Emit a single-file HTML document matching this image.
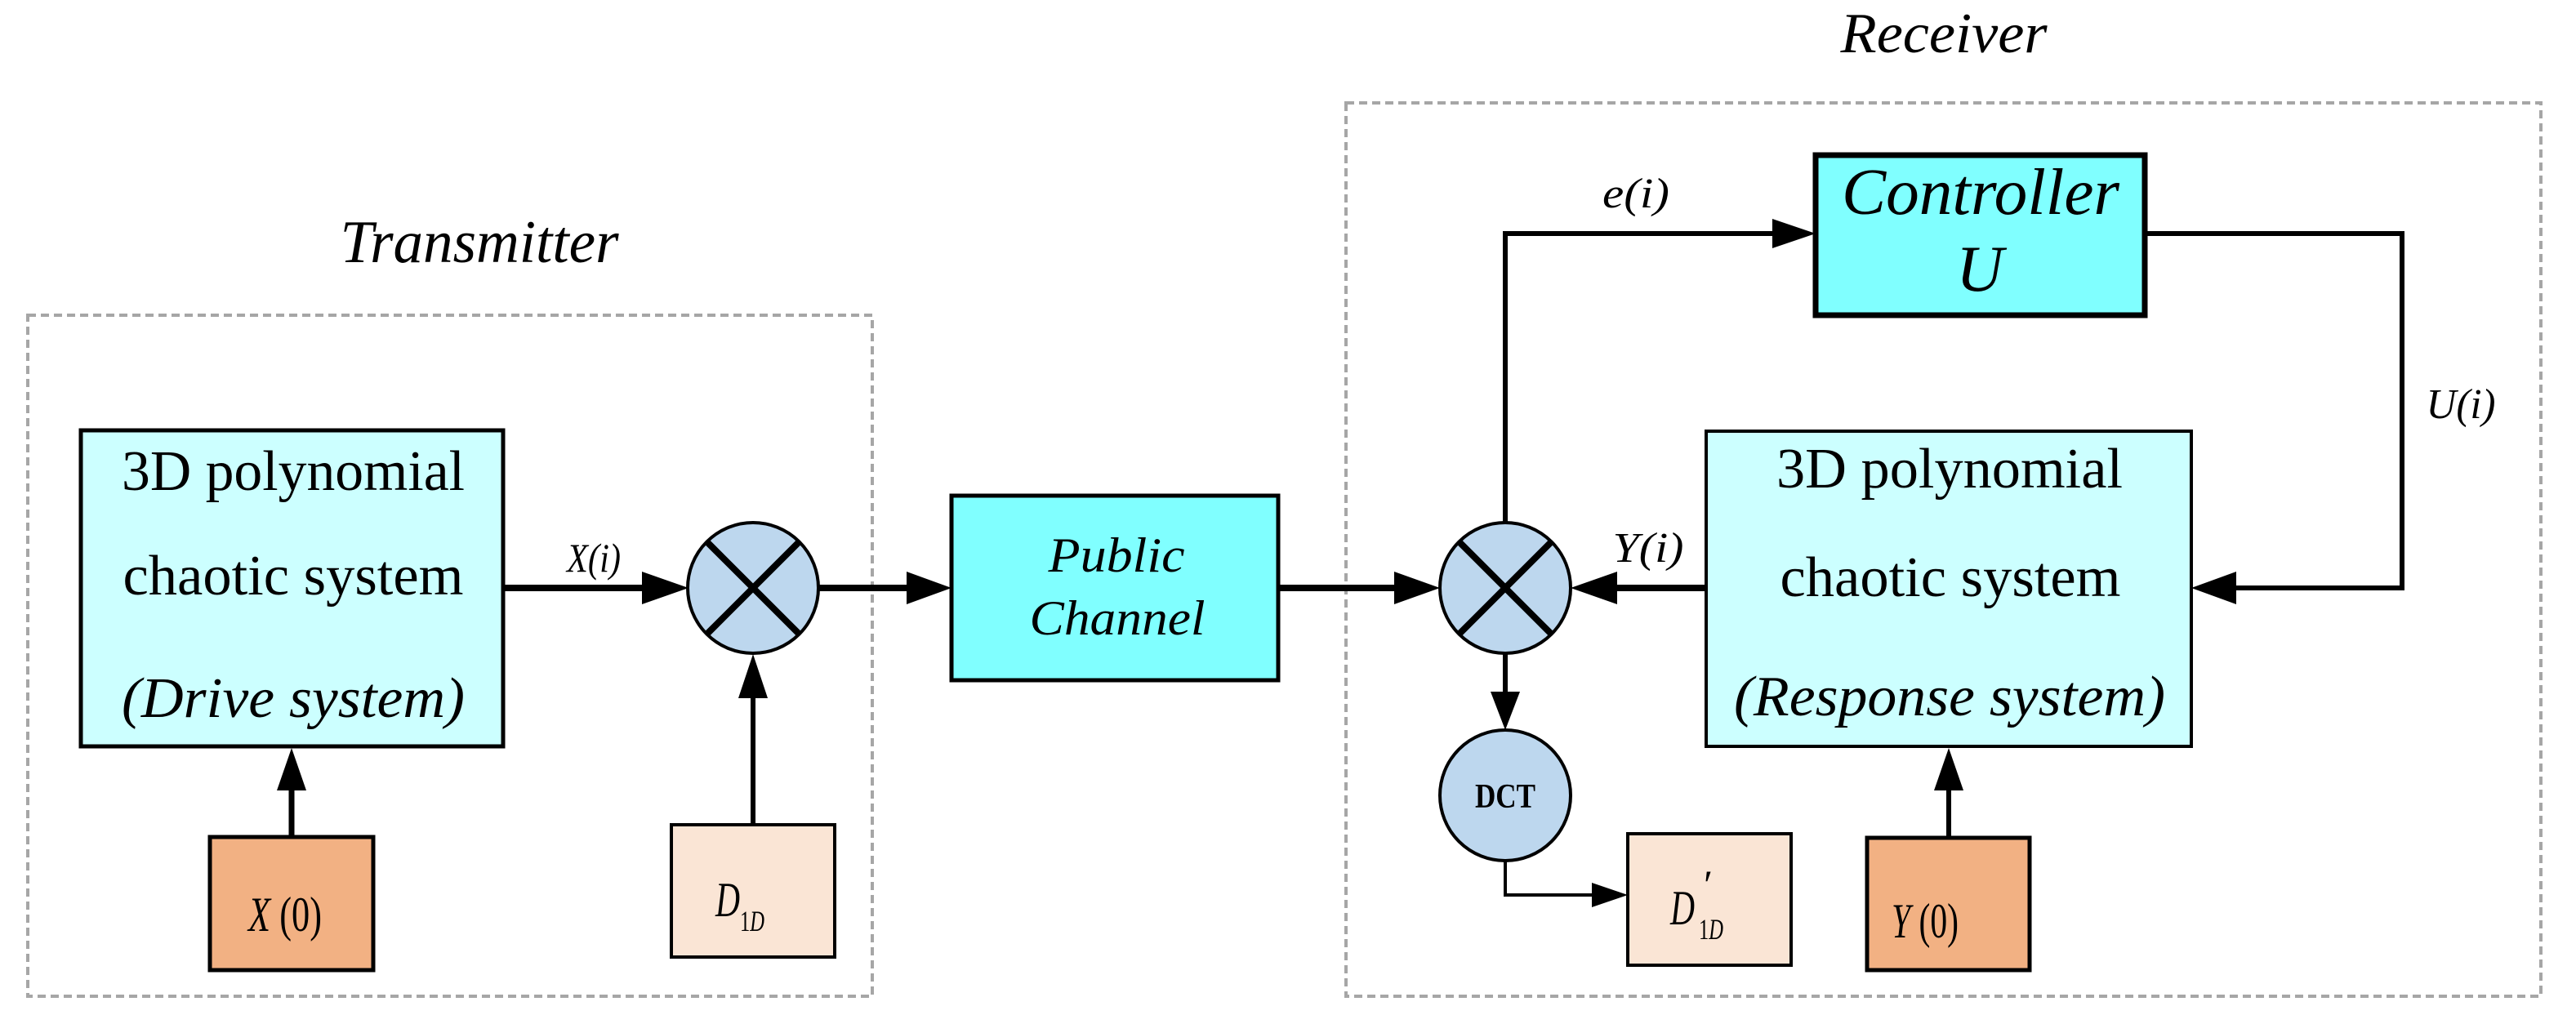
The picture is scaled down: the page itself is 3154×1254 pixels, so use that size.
<!DOCTYPE html>
<html><head><meta charset="utf-8"><style>
html,body{margin:0;padding:0;background:#fff;}
svg{display:block;}
text{font-family:"Liberation Serif","Times New Roman",serif;fill:#000;}
</style></head><body>
<svg width="3154" height="1254" viewBox="0 0 3154 1254" xmlns="http://www.w3.org/2000/svg" font-family="'Liberation Serif', 'Times New Roman', serif">
<rect x="34" y="386" width="1034" height="834" fill="none" stroke="#a6a6a6" stroke-width="4" stroke-dasharray="10,6"/>
<rect x="1648" y="126" width="1463" height="1094" fill="none" stroke="#a6a6a6" stroke-width="4" stroke-dasharray="10,6"/>
<text x="587" y="321" font-size="74" font-style="italic" text-anchor="middle" textLength="341" lengthAdjust="spacingAndGlyphs">Transmitter</text>
<text x="2380" y="64" font-size="70" font-style="italic" text-anchor="middle" textLength="253" lengthAdjust="spacingAndGlyphs">Receiver</text>

<rect x="99" y="527" width="517" height="387" fill="#ccffff" stroke="#000" stroke-width="5"/>
<text x="359" y="600" font-size="70" text-anchor="middle" textLength="420" lengthAdjust="spacingAndGlyphs">3D polynomial</text>
<text x="359" y="728" font-size="70" text-anchor="middle" textLength="417" lengthAdjust="spacingAndGlyphs">chaotic system</text>
<text x="359" y="878" font-size="70" font-style="italic" text-anchor="middle" textLength="420" lengthAdjust="spacingAndGlyphs">(Drive system)</text>

<rect x="257" y="1025" width="200" height="163" fill="#f2b183" stroke="#000" stroke-width="5"/>
<text x="349" y="1140" font-size="60" text-anchor="middle" textLength="90" lengthAdjust="spacingAndGlyphs"><tspan font-style="italic">X</tspan> (0)</text>
<line x1="357" y1="1025" x2="357" y2="960" stroke="#000" stroke-width="7"/>
<polygon points="357,916 339,968 375,968" fill="#000"/>

<rect x="822" y="1010" width="200" height="162" fill="#fae5d5" stroke="#000" stroke-width="4"/>
<text x="876" y="1122" font-size="60" font-style="italic" textLength="30" lengthAdjust="spacingAndGlyphs">D</text>
<text x="906" y="1140" font-size="36" textLength="30" lengthAdjust="spacingAndGlyphs">1<tspan font-style="italic">D</tspan></text>
<line x1="922" y1="1010" x2="922" y2="830" stroke="#000" stroke-width="6"/>
<polygon points="922,801 904,855 940,855" fill="#000"/>

<line x1="616" y1="720" x2="790" y2="720" stroke="#000" stroke-width="8"/>
<polygon points="843,720 786,700 786,740" fill="#000"/>
<text x="727" y="700" font-size="50" font-style="italic" text-anchor="middle" textLength="66" lengthAdjust="spacingAndGlyphs">X(i)</text>

<circle cx="922" cy="720" r="80" fill="#bdd7ee" stroke="#000" stroke-width="4"/>
<line x1="866" y1="664" x2="978" y2="776" stroke="#000" stroke-width="8"/>
<line x1="978" y1="664" x2="866" y2="776" stroke="#000" stroke-width="8"/>

<line x1="1002" y1="720" x2="1115" y2="720" stroke="#000" stroke-width="8"/>
<polygon points="1165,720 1110,700 1110,740" fill="#000"/>

<rect x="1165" y="607" width="400" height="226" fill="#80ffff" stroke="#000" stroke-width="5"/>
<text x="1367" y="700" font-size="60" font-style="italic" text-anchor="middle" textLength="167" lengthAdjust="spacingAndGlyphs">Public</text>
<text x="1368" y="777" font-size="60" font-style="italic" text-anchor="middle" textLength="215" lengthAdjust="spacingAndGlyphs">Channel</text>

<line x1="1565" y1="720" x2="1712" y2="720" stroke="#000" stroke-width="8"/>
<polygon points="1763,720 1707,700 1707,740" fill="#000"/>

<circle cx="1843" cy="720" r="80" fill="#bdd7ee" stroke="#000" stroke-width="4"/>
<line x1="1787" y1="664" x2="1899" y2="776" stroke="#000" stroke-width="8"/>
<line x1="1899" y1="664" x2="1787" y2="776" stroke="#000" stroke-width="8"/>

<polyline points="1843,640 1843,286 2175,286" fill="none" stroke="#000" stroke-width="6"/>
<polygon points="2223,286 2170,268 2170,304" fill="#000"/>
<text x="2003" y="254" font-size="52" font-style="italic" text-anchor="middle" textLength="82" lengthAdjust="spacingAndGlyphs">e(i)</text>

<rect x="2223" y="190" width="403" height="196" fill="#80ffff" stroke="#000" stroke-width="7"/>
<text x="2425" y="262" font-size="80" font-style="italic" text-anchor="middle" textLength="340" lengthAdjust="spacingAndGlyphs">Controller</text>
<text x="2424" y="356" font-size="80" font-style="italic" text-anchor="middle">U</text>

<polyline points="2626,286 2941,286 2941,720 2735,720" fill="none" stroke="#000" stroke-width="6"/>
<polygon points="2683,720 2738,700 2738,740" fill="#000"/>
<text x="3013" y="512" font-size="52" font-style="italic" text-anchor="middle" textLength="85" lengthAdjust="spacingAndGlyphs">U(i)</text>

<rect x="2089" y="528" width="594" height="386" fill="#ccffff" stroke="#000" stroke-width="4"/>
<text x="2387" y="597" font-size="70" text-anchor="middle" textLength="424" lengthAdjust="spacingAndGlyphs">3D polynomial</text>
<text x="2388" y="730" font-size="70" text-anchor="middle" textLength="417" lengthAdjust="spacingAndGlyphs">chaotic system</text>
<text x="2387" y="876" font-size="70" font-style="italic" text-anchor="middle" textLength="528" lengthAdjust="spacingAndGlyphs">(Response system)</text>

<line x1="2089" y1="720" x2="1975" y2="720" stroke="#000" stroke-width="8"/>
<polygon points="1923,720 1980,700 1980,740" fill="#000"/>
<text x="2018" y="688" font-size="52" font-style="italic" text-anchor="middle" textLength="87" lengthAdjust="spacingAndGlyphs">Y(i)</text>

<line x1="1843" y1="800" x2="1843" y2="852" stroke="#000" stroke-width="6"/>
<polygon points="1843,894 1825,847 1861,847" fill="#000"/>
<circle cx="1843" cy="974" r="80" fill="#bdd7ee" stroke="#000" stroke-width="4"/>
<text x="1843" y="989" font-size="42" font-weight="bold" text-anchor="middle" textLength="74" lengthAdjust="spacingAndGlyphs">DCT</text>

<polyline points="1843,1054 1843,1096 1952,1096" fill="none" stroke="#000" stroke-width="4"/>
<polygon points="1993,1096 1949,1081 1949,1111" fill="#000"/>
<rect x="1993" y="1021" width="200" height="161" fill="#fae5d5" stroke="#000" stroke-width="4"/>
<text x="2045" y="1132" font-size="60" font-style="italic" textLength="30" lengthAdjust="spacingAndGlyphs">D</text>
<text x="2083" y="1100" font-size="50" font-style="italic">′</text>
<text x="2080" y="1150" font-size="36" textLength="30" lengthAdjust="spacingAndGlyphs">1<tspan font-style="italic">D</tspan></text>

<rect x="2286" y="1026" width="199" height="162" fill="#f2b183" stroke="#000" stroke-width="5"/>
<text x="2357" y="1148" font-size="60" text-anchor="middle" textLength="82" lengthAdjust="spacingAndGlyphs"><tspan font-style="italic">Y</tspan> (0)</text>
<line x1="2386" y1="1026" x2="2386" y2="960" stroke="#000" stroke-width="6"/>
<polygon points="2386,916 2368,968 2404,968" fill="#000"/>
</svg>
</body></html>
